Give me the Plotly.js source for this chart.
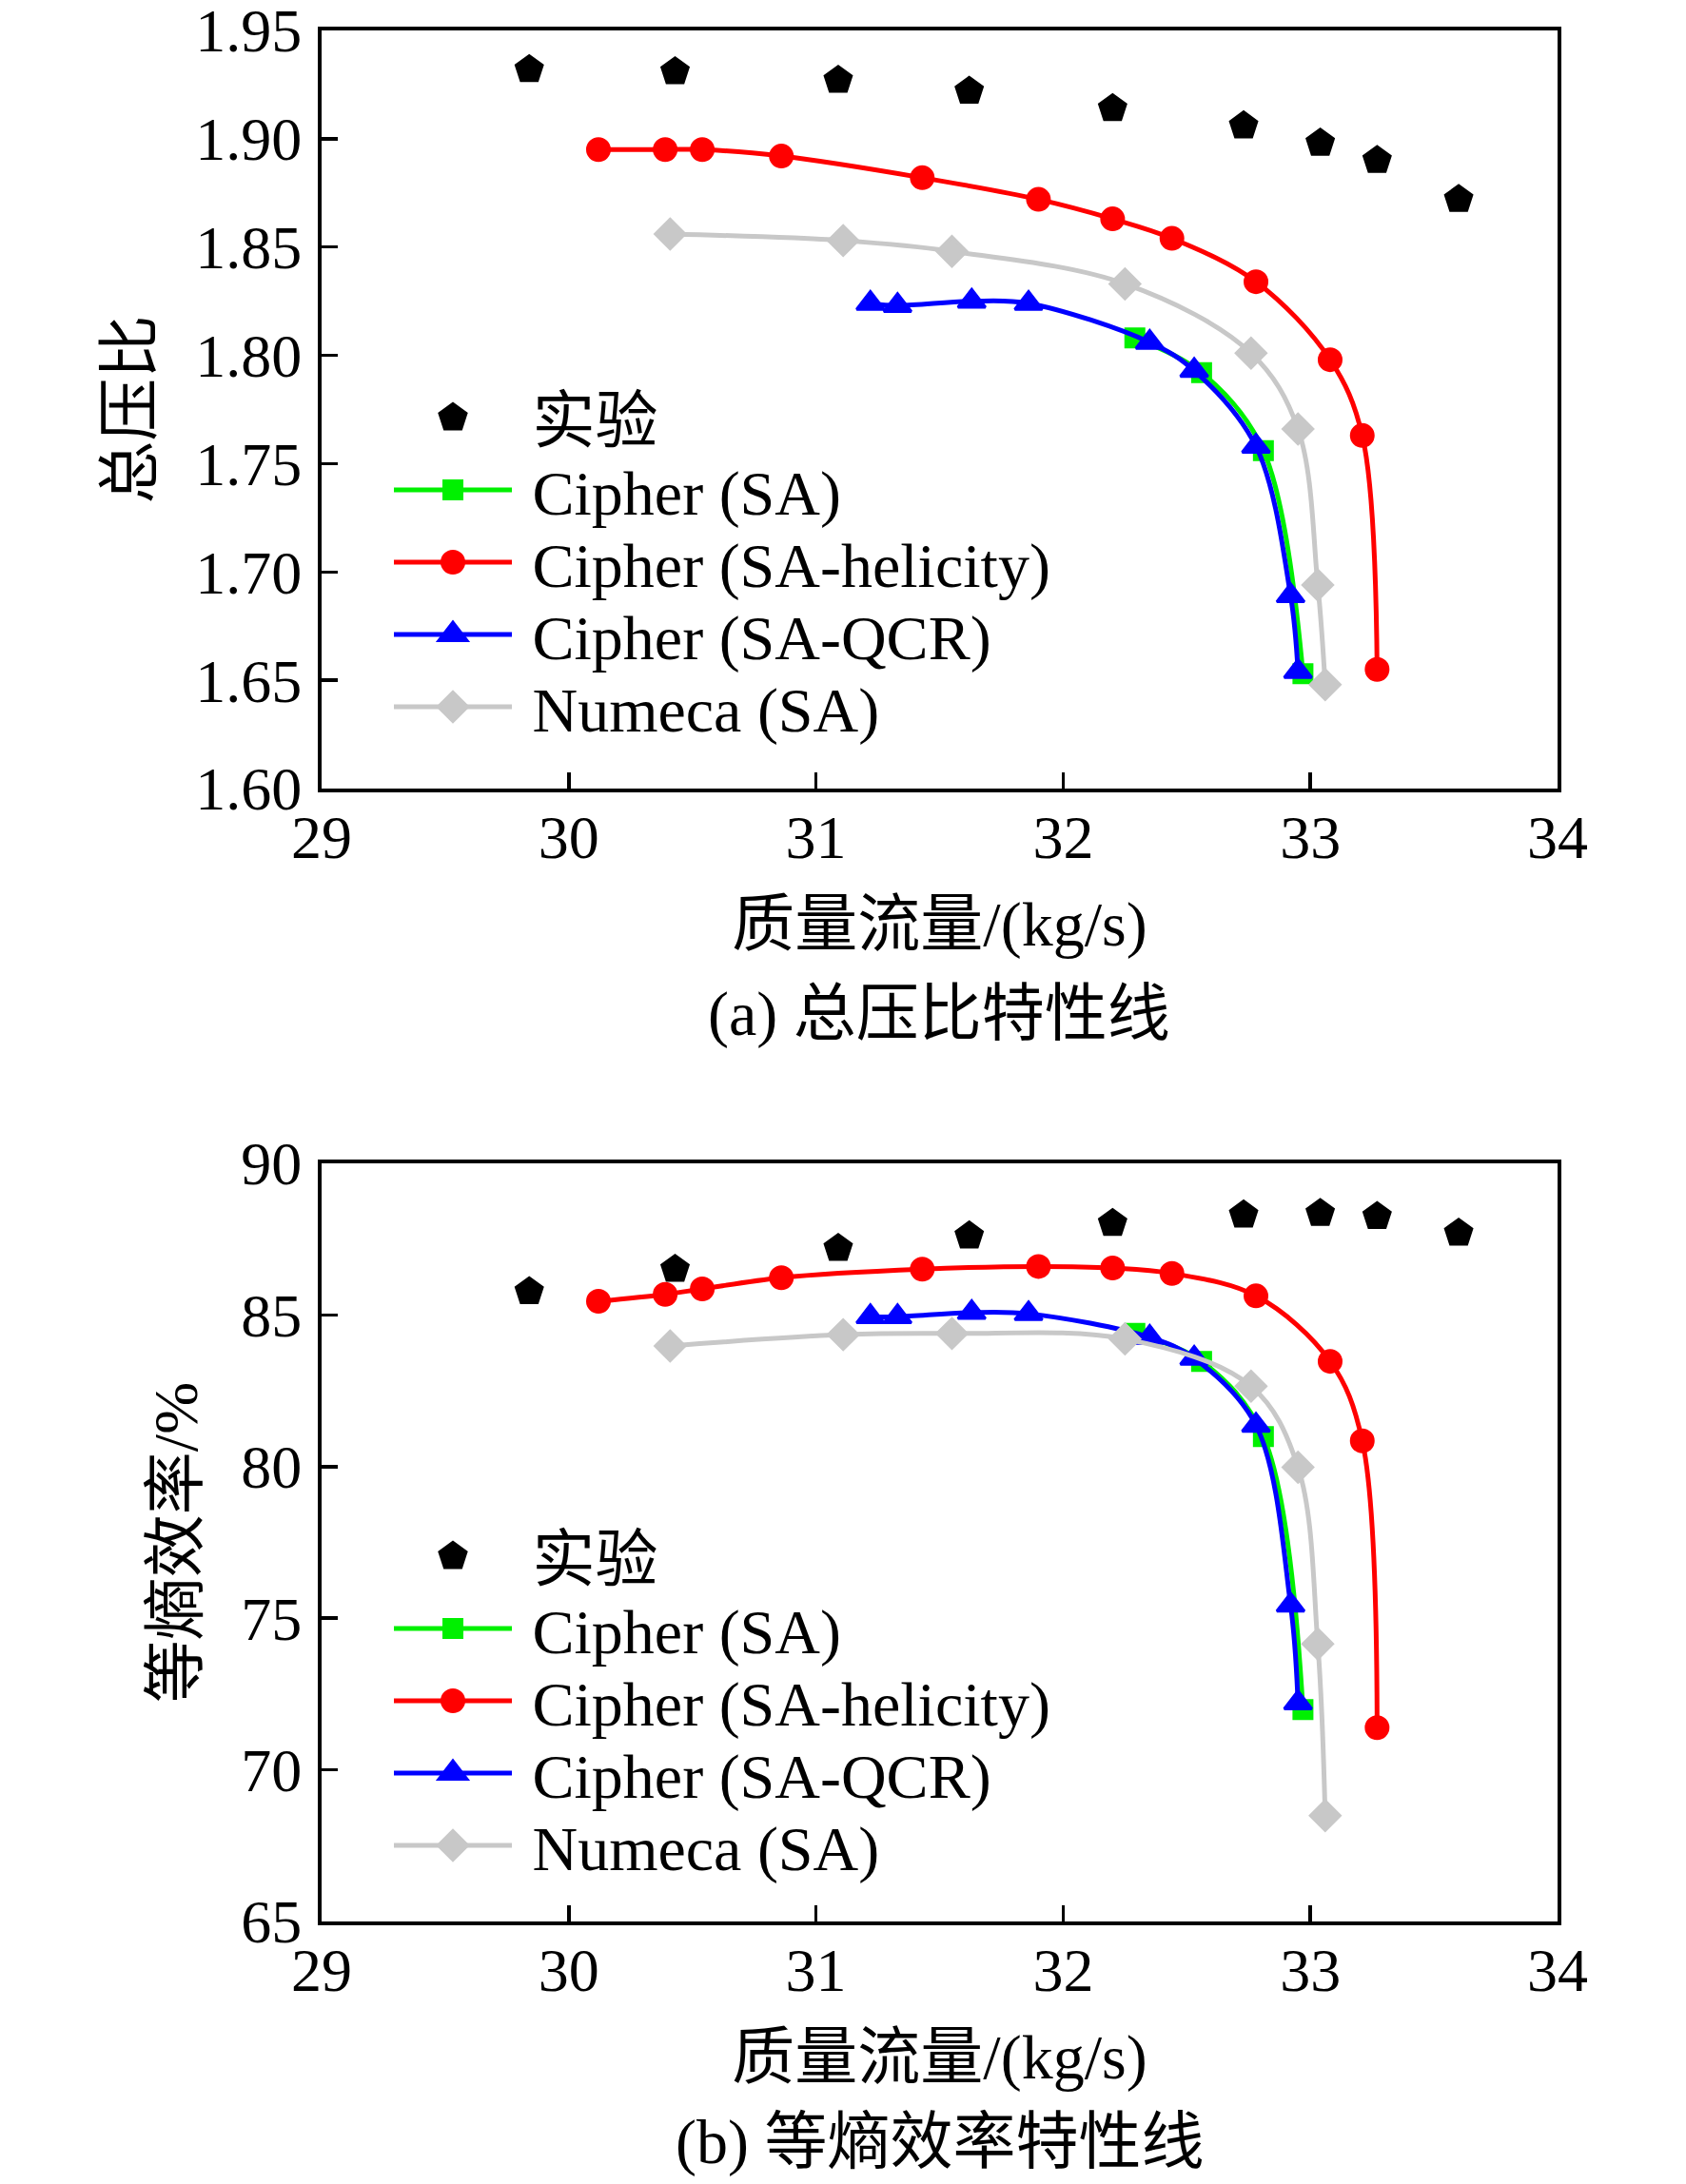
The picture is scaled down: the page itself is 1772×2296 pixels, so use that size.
<!DOCTYPE html>
<html>
<head>
<meta charset="utf-8">
<script src="https://cdn.plot.ly/plotly-3.0.1.min.js"></script>
<style>html,body{margin:0;padding:0;background:#fff;}</style>
</head>
<body>
<div id="chart" style="width:1772px;height:2296px;"></div>
<script>
// ---- data ----
const massExp = [29.84, 30.43, 31.09, 31.62, 32.20, 32.73, 33.04, 33.27, 33.60];
const prExp   = [1.932, 1.931, 1.927, 1.922, 1.914, 1.906, 1.898, 1.890, 1.872];
const effExp  = [85.77, 86.51, 87.20, 87.61, 88.02, 88.30, 88.35, 88.25, 87.70];

const massSA = [32.29, 32.56, 32.81, 32.97];
const prSA   = [1.808, 1.792, 1.756, 1.653];
const effSA  = [84.39, 83.47, 80.99, 71.99];

const massHel = [30.12, 30.39, 30.54, 30.86, 31.43, 31.90, 32.20, 32.44, 32.78, 33.08, 33.21, 33.27];
const prHel   = [1.895, 1.895, 1.895, 1.892, 1.882, 1.872, 1.863, 1.854, 1.834, 1.798, 1.763, 1.655];
const effHel  = [85.45, 85.68, 85.86, 86.23, 86.51, 86.60, 86.55, 86.37, 85.63, 83.47, 80.85, 71.39];

const massQCR = [31.22, 31.33, 31.63, 31.86, 32.35, 32.53, 32.78, 32.92, 32.95];
const prQCR   = [1.824, 1.823, 1.825, 1.824, 1.806, 1.793, 1.758, 1.689, 1.654];
const effQCR  = [84.94, 84.94, 85.08, 85.04, 84.26, 83.57, 81.36, 75.43, 72.21];

const massNum = [30.41, 31.11, 31.55, 32.25, 32.76, 32.95, 33.03, 33.06];
const prNum   = [1.856, 1.853, 1.848, 1.833, 1.801, 1.766, 1.694, 1.648];
const effNum  = [83.98, 84.35, 84.39, 84.21, 82.65, 79.98, 74.15, 68.49];

const seriesNames = ['实验', 'Cipher (SA)', 'Cipher (SA-helicity)', 'Cipher (SA-QCR)', 'Numeca (SA)'];
const xTicks = [29, 30, 31, 32, 33, 34];
const prTicks = [1.60, 1.65, 1.70, 1.75, 1.80, 1.85, 1.90, 1.95];
const effTicks = [65, 70, 75, 80, 85, 90];

// ---- styles ----
const FONT = '"Liberation Serif", "Times New Roman", "Noto Sans CJK SC", serif';
const MLINE = 3;
const LW = 5;
const styles = [
  {color: '#000000', symbol: 'pentagon', size: 29, mode: 'markers'},
  {color: '#00f000', symbol: 'square', size: 19, mode: 'lines+markers'},
  {color: '#ff0000', symbol: 'circle', size: 23, mode: 'lines+markers'},
  {color: '#0000ff', symbol: 'triangle-up', size: 25, mode: 'lines+markers'},
  {color: '#c8c8c8', symbol: 'diamond', size: 24, mode: 'lines+markers'}
];

function mk(i, x, y, xa, ya, leg) {
  const s = styles[i];
  return {
    type: 'scatter', x: x, y: y, xaxis: xa, yaxis: ya, legend: leg,
    name: '\u00a0' + seriesNames[i], mode: s.mode,
    line: {color: s.color, width: LW, shape: 'spline', smoothing: 1},
    marker: {color: s.color, symbol: s.symbol, size: s.size, line: {color: s.color, width: MLINE}},
    cliponaxis: false
  };
}

const traces = [
  mk(0, massExp, prExp, 'x', 'y', 'legend'),
  mk(1, massSA, prSA, 'x', 'y', 'legend'),
  mk(2, massHel, prHel, 'x', 'y', 'legend'),
  mk(3, massQCR, prQCR, 'x', 'y', 'legend'),
  mk(4, massNum, prNum, 'x', 'y', 'legend'),
  mk(0, massExp, effExp, 'x2', 'y2', 'legend2'),
  mk(1, massSA, effSA, 'x2', 'y2', 'legend2'),
  mk(2, massHel, effHel, 'x2', 'y2', 'legend2'),
  mk(3, massQCR, effQCR, 'x2', 'y2', 'legend2'),
  mk(4, massNum, effNum, 'x2', 'y2', 'legend2')
];

const W = 1772, H = 2296;
const px = v => v / W;
const py = v => 1 - v / H;

function xAxis(anchor) {
  return {
    domain: [px(338), px(1637)], anchor: anchor,
    range: [29, 34], tickvals: xTicks, ticktext: xTicks.map(String),
    ticks: 'inside', ticklen: 17, tickwidth: 3.5, tickcolor: '#000',
    showline: true, linewidth: 4, linecolor: '#000', mirror: true,
    showgrid: false, zeroline: false,
    tickfont: {family: FONT, size: 64, color: '#000'},
    ticklabelstandoff: -8, ticklabeloverflow: 'allow',
    title: {text: '质量流量/(kg/s)', font: {family: FONT, size: 66, color: '#000'}, standoff: 34},
    automargin: false
  };
}
function yAxis(anchor, top, bottom, ticks, fmt, title) {
  return {
    domain: [py(bottom), py(top)], anchor: anchor,
    range: [ticks[0], ticks[ticks.length - 1]], tickvals: ticks,
    ticktext: ticks.map(v => v.toFixed(fmt)),
    ticks: 'inside', ticklen: 17, tickwidth: 3.5, tickcolor: '#000',
    showline: true, linewidth: 4, linecolor: '#000', mirror: true,
    showgrid: false, zeroline: false,
    tickfont: {family: FONT, size: 64, color: '#000'},
    ticklabelstandoff: 4, ticklabeloverflow: 'allow',
    title: {text: title, font: {family: FONT, size: 66, color: '#000'}, standoff: 25},
    automargin: false
  };
}

const legendBase = {
  font: {family: FONT, size: 66, color: '#000'},
  bgcolor: 'rgba(0,0,0,0)', borderwidth: 0,
  itemwidth: 124, traceorder: 'normal', tracegroupgap: 0,
  xanchor: 'left', yanchor: 'top'
};

const layout = {
  width: W, height: H,
  margin: {l: 0, r: 0, t: 0, b: 0},
  paper_bgcolor: '#fff', plot_bgcolor: '#fff',
  showlegend: true,
  xaxis: xAxis('y'),
  yaxis: yAxis('x', 32, 829, prTicks, 2, '总压比'),
  xaxis2: xAxis('y2'),
  yaxis2: yAxis('x2', 1223, 2020, effTicks, 0, '等熵效率/%'),
  legend: Object.assign({}, legendBase, {x: px(400), y: py(390)}),
  legend2: Object.assign({}, legendBase, {x: px(400), y: py(1587)}),
  annotations: [
    {text: '(a) 总压比特性线', xref: 'paper', yref: 'paper', x: px(987), y: py(1066),
     xanchor: 'center', yanchor: 'middle', showarrow: false, font: {family: FONT, size: 66, color: '#000'}},
    {text: '(b) 等熵效率特性线', xref: 'paper', yref: 'paper', x: px(987), y: py(2252),
     xanchor: 'center', yanchor: 'middle', showarrow: false, font: {family: FONT, size: 66, color: '#000'}}
  ]
};

// legend layout targets (page pixels): first row centre, row spacing, line start
const legendTargets = {
  legend:  {row0: 439, step: 76, lineX: 414},
  legend2: {row0: 1636, step: 76, lineX: 414}
};

const TR = /translate\(\s*([-\d.eE]+)[ ,]+([-\d.eE]+)\s*\)/;

function tweakLegends() {
  const root = document.getElementById('chart');
  const rootBox = root.getBoundingClientRect();
  Object.keys(legendTargets).forEach(function (cls) {
    const tgt = legendTargets[cls];
    const lg = root.querySelector('g.' + cls);
    if (!lg) return;
    lg.querySelectorAll('[clip-path]').forEach(function (el) { el.removeAttribute('clip-path'); });
    const items = Array.prototype.slice.call(lg.querySelectorAll('g.traces'));
    let x0 = null, y0 = null;
    items.forEach(function (g, i) {
      const m = TR.exec(g.getAttribute('transform') || '');
      if (!m) return;
      if (x0 === null) { x0 = +m[1]; y0 = +m[2]; }
      g.setAttribute('transform', 'translate(' + x0 + ',' + (y0 + i * tgt.step) + ')');
      const s = styles[i % styles.length];
      const k = (s.size + MLINE) / (Math.min(s.size, 16) + MLINE);
      g.querySelectorAll('.legendpoints path.scatterpts').forEach(function (p) {
        const t = p.getAttribute('transform') || '';
        p.setAttribute('transform', t + ' scale(' + k.toFixed(3) + ')');
      });
      g.querySelectorAll('path.js-line').forEach(function (p) {
        p.style.strokeWidth = LW + 'px';
      });
    });
    const refLine = items[1].querySelector('path.js-line');
    const b = refLine.getBoundingClientRect();
    const cy = b.top + b.height / 2 - rootBox.top;
    const lx = b.left - rootBox.left;
    const m2 = TR.exec(lg.getAttribute('transform') || '');
    if (m2) {
      const nx = +m2[1] + (tgt.lineX - lx);
      const ny = +m2[2] + (tgt.row0 + tgt.step - cy);
      lg.setAttribute('transform', 'translate(' + nx + ',' + ny + ')');
    }
  });
}

Plotly.newPlot('chart', traces, layout, {staticPlot: true, displayModeBar: false}).then(tweakLegends);
</script>
</body>
</html>
